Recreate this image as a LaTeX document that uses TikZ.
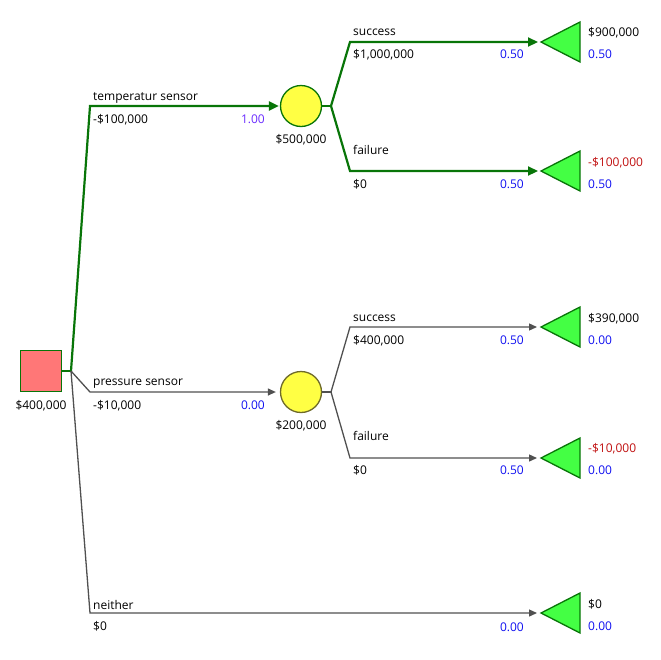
\documentclass[tikz,border=0pt]{standalone}
\usepackage{fontspec}
\setmainfont{Open Sans}
\usetikzlibrary{arrows.meta}
\definecolor{pathgreen}{HTML}{087508}
\definecolor{pathgray}{HTML}{505050}
\definecolor{probblue}{HTML}{1010F0}
\definecolor{probpurple}{HTML}{6A2CFF}
\definecolor{negred}{HTML}{C01010}
\definecolor{sqfill}{HTML}{FF7777}
\definecolor{cfill}{HTML}{FFFF44}
\definecolor{tfill}{HTML}{44FF44}
\definecolor{olive}{HTML}{6E6A2A}
\begin{document}
\begin{tikzpicture}[x=1pt,y=-1pt,
  every node/.style={font=\fontsize{12}{14}\selectfont,inner sep=0pt},
  txt/.style={yshift=-1.5pt},
  lbl/.style={txt,anchor=west,text=black},
  prob/.style={txt,anchor=east,text=probblue},
  tval/.style={txt,anchor=west,text=black},
  tprob/.style={txt,anchor=west,text=probblue},
  best/.style={draw=pathgreen,line width=2.2pt,line join=miter,-{Triangle[length=10pt,width=9pt]}},
  other/.style={draw=pathgray,line width=1.3pt,-{Triangle[length=8pt,width=7pt]}},
  decbox/.style={draw=pathgreen,fill=sqfill,line width=1.3pt,minimum size=41pt},
  chance/.style={circle,fill=cfill,line width=1.3pt,minimum size=41pt},
  tri/.style={draw=pathgreen,fill=tfill,line width=1.3pt,line join=miter}
]
\useasboundingbox (0,0) rectangle (661,659);

% decision node
\node[decbox] (d) at (41,371) {};
\node[txt] (dv) at (41,404) {\$400,000};
\coordinate (j0) at (71,371);

% chance nodes
\node[chance,draw=pathgreen] (c1) at (301,106) {};
\node[txt] (c1v) at (301,138) {\$500,000};
\node[chance,draw=olive] (c2) at (301,392) {};
\node[txt] (c2v) at (301,424) {\$200,000};
\coordinate (j1) at (331,106);
\coordinate (j2) at (331,392);

% bends
\coordinate (b1) at (90,106);
\coordinate (b2) at (90,392);
\coordinate (b3) at (90,613);
\coordinate (b11) at (350,42);
\coordinate (b12) at (350,171);
\coordinate (b21) at (350,327);
\coordinate (b22) at (350,458);

% terminal tips
\coordinate (t1) at (541,42);
\coordinate (t2) at (541,171);
\coordinate (t3) at (541,327);
\coordinate (t4) at (541,458);
\coordinate (t5) at (541,613);
\foreach \t in {t1,t2,t3,t4,t5}
  \draw[tri] (\t) -- ++(39,-20) -- ++(0,40) -- cycle;

% connectors
\draw[draw=pathgreen,line width=2.2pt] (d.east) -- (j0);
\draw[best] (j0) -- (b1) -- ([xshift=-1pt]c1.west);
\draw[other] (j0) -- (b2) -- ([xshift=-4pt]c2.west);
\draw[other] (j0) -- (b3) -- ([xshift=-4pt]t5);

\draw[draw=pathgreen,line width=2.2pt] (c1.east) -- (j1);
\draw[best] (j1) -- (b11) -- ([xshift=-3pt]t1);
\draw[best] (j1) -- (b12) -- ([xshift=-3pt]t2);

\draw[draw=pathgray,line width=1.3pt] (c2.east) -- (j2);
\draw[other] (j2) -- (b21) -- ([xshift=-4pt]t3);
\draw[other] (j2) -- (b22) -- ([xshift=-4pt]t4);

% branch labels
\node[lbl] (l1) at (93,96) {temperatur sensor};
\node[lbl] (l1c) at (93,118) {-\$100,000};
\node[prob,text=probpurple] (l1p) at (265,118) {1.00};
\node[lbl] (l2) at (93,382) {pressure sensor};
\node[lbl] (l2c) at (93,404) {-\$10,000};
\node[prob] (l2p) at (265,404) {0.00};
\node[lbl] (l3) at (93,603) {neither};
\node[lbl] (l3c) at (93,625) {\$0};
\node[prob] (l3p) at (524,626) {0.00};

\node[lbl] (l11) at (353,31) {success};
\node[lbl] (l11c) at (353,53) {\$1,000,000};
\node[prob] (l11p) at (524,53) {0.50};
\node[lbl] (l12) at (353,148) {failure};
\node[lbl] (l12c) at (353,183) {\$0};
\node[prob] (l12p) at (524,183) {0.50};

\node[lbl] (l21) at (353,317) {success};
\node[lbl] (l21c) at (353,339) {\$400,000};
\node[prob] (l21p) at (524,339) {0.50};
\node[lbl] (l22) at (353,434) {failure};
\node[lbl] (l22c) at (353,469) {\$0};
\node[prob] (l22p) at (524,469) {0.50};

% terminal labels
\node[tval] (v1) at (588,31) {\$900,000};
\node[tprob] (p1) at (588,53) {0.50};
\node[tval,text=negred] (v2) at (588,161) {-\$100,000};
\node[tprob] (p2) at (588,183) {0.50};
\node[tval] (v3) at (588,317) {\$390,000};
\node[tprob] (p3) at (588,339) {0.00};
\node[tval,text=negred] (v4) at (588,447) {-\$10,000};
\node[tprob] (p4) at (588,469) {0.00};
\node[tval] (v5) at (588,603) {\$0};
\node[tprob] (p5) at (588,625) {0.00};
\end{tikzpicture}
\end{document}
